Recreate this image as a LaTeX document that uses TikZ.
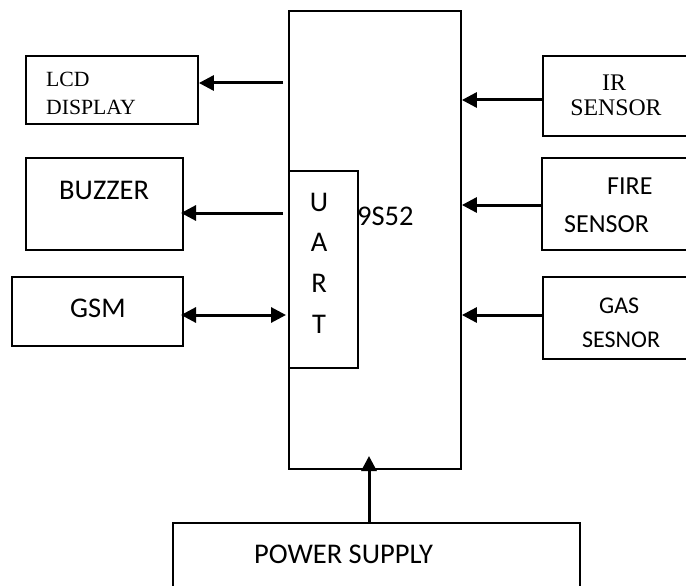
\documentclass[tikz,border=0pt]{standalone}
\usepackage{fontspec}
\setmainfont{Carlito}
\newfontfamily\tnr{Liberation Serif}
\usetikzlibrary{arrows.meta}
\begin{document}
\begin{tikzpicture}[x=1pt,y=-1pt,
  box/.style={draw, line width=1.8pt, inner sep=0pt},
  arr/.style={line width=3pt, -{Triangle[length=15pt,width=15pt]}},
  darr/.style={line width=3pt, {Triangle[length=15pt,width=15pt]}-{Triangle[length=15pt,width=15pt]}},
  lbl/.style={anchor=base west, inner sep=0pt},
  clbl/.style={anchor=base, inner sep=0pt},
  sa/.style={font=\fontsize{28.5}{34}\selectfont},
  sb/.style={font=\fontsize{26}{32}\selectfont},
  sc/.style={font=\fontsize{24}{30}\selectfont},
  ta/.style={font=\tnr\fontsize{21.7}{27}\selectfont},
  tb/.style={font=\tnr\fontsize{23.8}{28}\selectfont},
]
\useasboundingbox (0,0) rectangle (686,586);
\fill[white] (0,0) rectangle (686,586);
\clip (0,0) rectangle (686,586);

% main controller
\node[box, minimum width=172pt, minimum height=458pt] (main) at (375,240) {};
\node[lbl, sa] (mcu) at (357,225) {9S52};
\node[box, fill=white, minimum width=69pt, minimum height=197pt] (uart) at (323.5,269.5) {};
\node[clbl, sa] (u1) at (319,211) {U};
\node[clbl, sa] (u2) at (319,251) {A};
\node[clbl, sa] (u3) at (319,292) {R};
\node[clbl, sa] (u4) at (319,333) {T};

% left blocks
\node[box, minimum width=172pt, minimum height=68pt] (lcd) at (112,90) {};
\node[lbl, ta] (lcdt1) at (46,87) {LCD};
\node[lbl, ta] (lcdt2) at (46,114) {DISPLAY};

\node[box, minimum width=157pt, minimum height=92pt] (buzzer) at (104.5,204) {};
\node[lbl, sa] (buzt) at (59,199) {BUZZER};

\node[box, minimum width=171pt, minimum height=69pt] (gsm) at (97.5,311.5) {};
\node[lbl, sa] (gsmt) at (70,317) {GSM};

% right blocks
\node[box, minimum width=177pt, minimum height=80pt] (ir) at (631.5,96) {};
\node[clbl, tb] (irt1) at (614,91) {IR};
\node[clbl, tb] (irt2) at (616,116) {SENSOR};

\node[box, minimum width=178pt, minimum height=92pt] (fire) at (631,204) {};
\node[lbl, sb] (firet1) at (607,194) {FIRE};
\node[lbl, sb] (firet2) at (564,232) {SENSOR};

\node[box, minimum width=177pt, minimum height=82pt] (gas) at (631.5,318) {};
\node[lbl, sc] (gast1) at (599,313) {GAS};
\node[lbl, sc] (gast2) at (582,347) {SESNOR};

% power supply
\node[box, minimum width=407pt, minimum height=97pt] (power) at (376.5,571.5) {};
\node[lbl, sa] (powt) at (254,563) {POWER SUPPLY};

% connectors
\coordinate (lcdsrc) at (283,83);
\draw[arr] (lcdsrc) -- (lcdsrc -| lcd.east);
\coordinate (buzsrc) at (283,213);
\draw[arr] (buzsrc) -- (181,213);
\coordinate (gsmend) at (286,315);
\draw[darr] (181,315) -- (gsmend);
\draw[arr] (ir.west |- 0,100) -- (main.east |- 0,100);
\draw[arr] (fire.west |- 0,205) -- (main.east |- 0,205);
\draw[arr] (gas.west |- 0,315) -- (main.east |- 0,315);
\coordinate (pwtip) at (369,456);
\draw[arr] (pwtip |- power.north) -- (pwtip);
\end{tikzpicture}
\end{document}
